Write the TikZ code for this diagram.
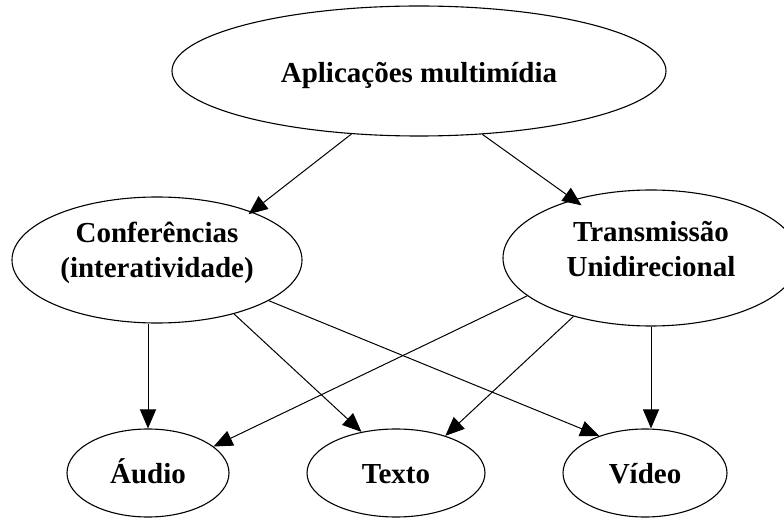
\documentclass[tikz,border=0pt]{standalone}
\usepackage{fontspec}
\setmainfont{Liberation Serif}
\usetikzlibrary{shapes.geometric,arrows.meta}
\begin{document}
\begin{tikzpicture}[x=1pt,y=-1pt,
  box/.style={ellipse,draw,line width=1.1pt,inner sep=0pt,
    font=\fontsize{29}{35}\selectfont\bfseries,align=center},
  small/.style={box,minimum height=88pt,text height=21pt,text depth=0pt},
  edge/.style={line width=1pt,-{Triangle[length=19pt,width=16pt]}}]
\useasboundingbox (0,0) rectangle (784,518);
\node[box,minimum width=494pt,minimum height=130pt,text height=29pt] (top) at (419,71) {Aplicações multimídia};
\node[box,minimum width=290pt,minimum height=126pt,text depth=21pt] (conf) at (157,260) {Conferências\\(interatividade)};
\node[box,minimum width=296pt,minimum height=136pt,text depth=18pt] (trans) at (651,258) {Transmissão\\Unidirecional};
\node[small,minimum width=162pt] (audio) at (148,473) {Áudio};
\node[small,minimum width=178pt] (texto) at (396,473) {Texto};
\node[small,minimum width=164pt] (video) at (645,473) {Vídeo};
\draw[edge,shorten >=-4pt] (top.223) -- (conf.27);
\draw[edge,shorten >=-10pt] (top.315) -- (trans.143);
\draw[edge] (audio.north |- conf.south) -- (audio.north);
\draw[edge] (conf.325) -- (texto.130);
\draw[edge] (conf.340) -- (video.141);
\draw[edge] (trans.197) -- (audio.22);
\draw[edge] (trans.217) -- (texto.37);
\draw[edge] (trans.south) -- (trans.south |- video.north);
\end{tikzpicture}
\end{document}
